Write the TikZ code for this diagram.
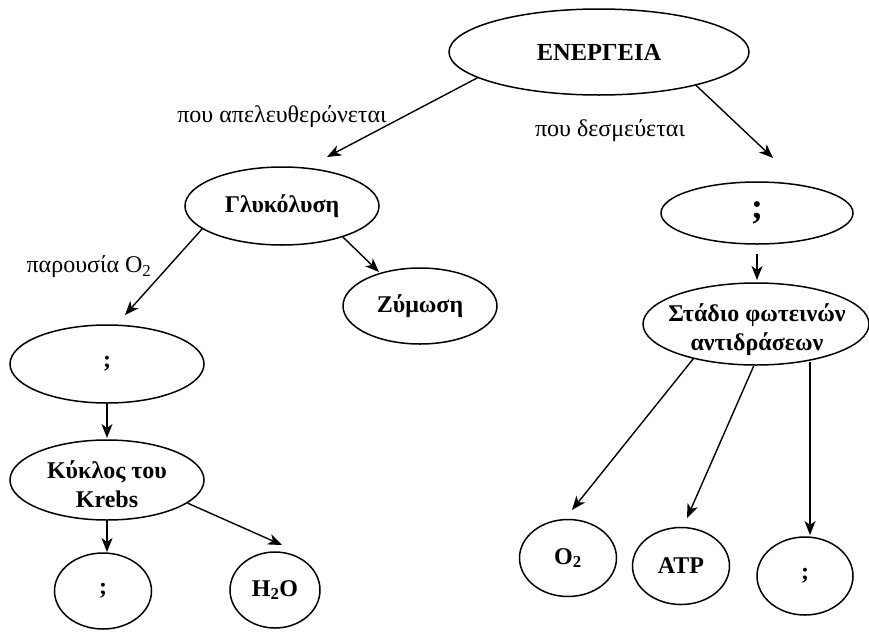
\documentclass[tikz,border=0pt]{standalone}
\usepackage{fontspec}
\setmainfont{Liberation Serif}
\usetikzlibrary{shapes.geometric,arrows.meta}
\begin{document}
\begin{tikzpicture}[x=1pt,y=-1pt,
  el/.style={draw,ellipse,line width=1.5pt,inner sep=0pt,align=center,
    font=\fontsize{24}{29}\selectfont\bfseries},
  txt/.style={inner sep=0pt,align=center,font=\fontsize{24}{29}\selectfont\bfseries},
  arr/.style={line width=1.4pt,-{Stealth[length=14pt,width=11pt,inset=4pt]}},
  lbl/.style={font=\fontsize{24}{28}\selectfont,inner sep=0pt}]
\useasboundingbox (0,0) rectangle (869,632);
% nodes
\node[el,minimum width=300,minimum height=86,font=\fontsize{24.5}{28}\selectfont\bfseries] (en) at (599,52) {ΕΝΕΡΓΕΙΑ};
\node[el,minimum width=194,minimum height=78] (gl) at (282,206) {Γλυκόλυση};
\node[el,minimum width=154,minimum height=76] (zy) at (420,306) {Ζύμωση};
\node[el,minimum width=192,minimum height=62,font=\fontsize{36}{38}\selectfont\bfseries] (q2) at (757,213) {;};
\node[el,minimum width=226,minimum height=82] (st) at (756,324) {};
\node[txt] (stt) at (757,330) {Στάδιο φωτεινών\\αντιδράσεων};
\node[el,minimum width=194,minimum height=78] (q1) at (107,364) {;};
\node[el,minimum width=194,minimum height=80] (kr) at (107,480) {};
\node[txt] (krt) at (107,484) {Κύκλος του\\Krebs};
\node[el,minimum width=97,minimum height=76] (q3) at (103,591) {;};
\node[el,minimum width=90,minimum height=76] (h2o) at (275,590) {H\textsubscript{2}O};
\node[el,minimum width=97,minimum height=77] (o2) at (568,558) {O\textsubscript{2}};
\node[el,minimum width=97,minimum height=77] (atp) at (681,566) {ATP};
\node[el,minimum width=96,minimum height=78] (q4) at (805,576) {;};
% labels
\node[lbl] (l1) at (282,117) {που απελευθερώνεται};
\node[lbl] (l2) at (610,131) {που δεσμεύεται};
\node[lbl] (l3) at (89,267) {παρουσία O\textsubscript{2}};
% arrow tips
\coordinate (t1) at (327,157);
\coordinate (t2) at (773,158);
\coordinate (t3) at (125,315);
\coordinate (t4) at (379,272);
\coordinate (t5) at (107,438);
\coordinate (t6) at (107,552);
\coordinate (t7) at (282,545);
\coordinate (t8) at (757,280);
\coordinate (t9) at (572,510);
\coordinate (t10) at (687,518);
\coordinate (t11) at (810,535);
% arrows
\draw[arr] (en.192.7) -- (t1);
\draw[arr] (en.341.7) -- (t2);
\draw[arr] (gl.196.7) -- (t3);
\draw[arr] (gl.333.1) -- (t4);
\draw[arr] (q1.south) -- (t5);
\draw[arr] (kr.south) -- (t6);
\draw[arr] (kr.344.7) -- (t7);
\draw[arr] ([yshift=-9pt]q2.south) -- (t8);
\draw[arr] (st.209.1) -- (t9);
\draw[arr] (st.267.6) -- (t10);
\draw[arr] (t11 |- st.322) -- (t11);
\end{tikzpicture}
\end{document}
